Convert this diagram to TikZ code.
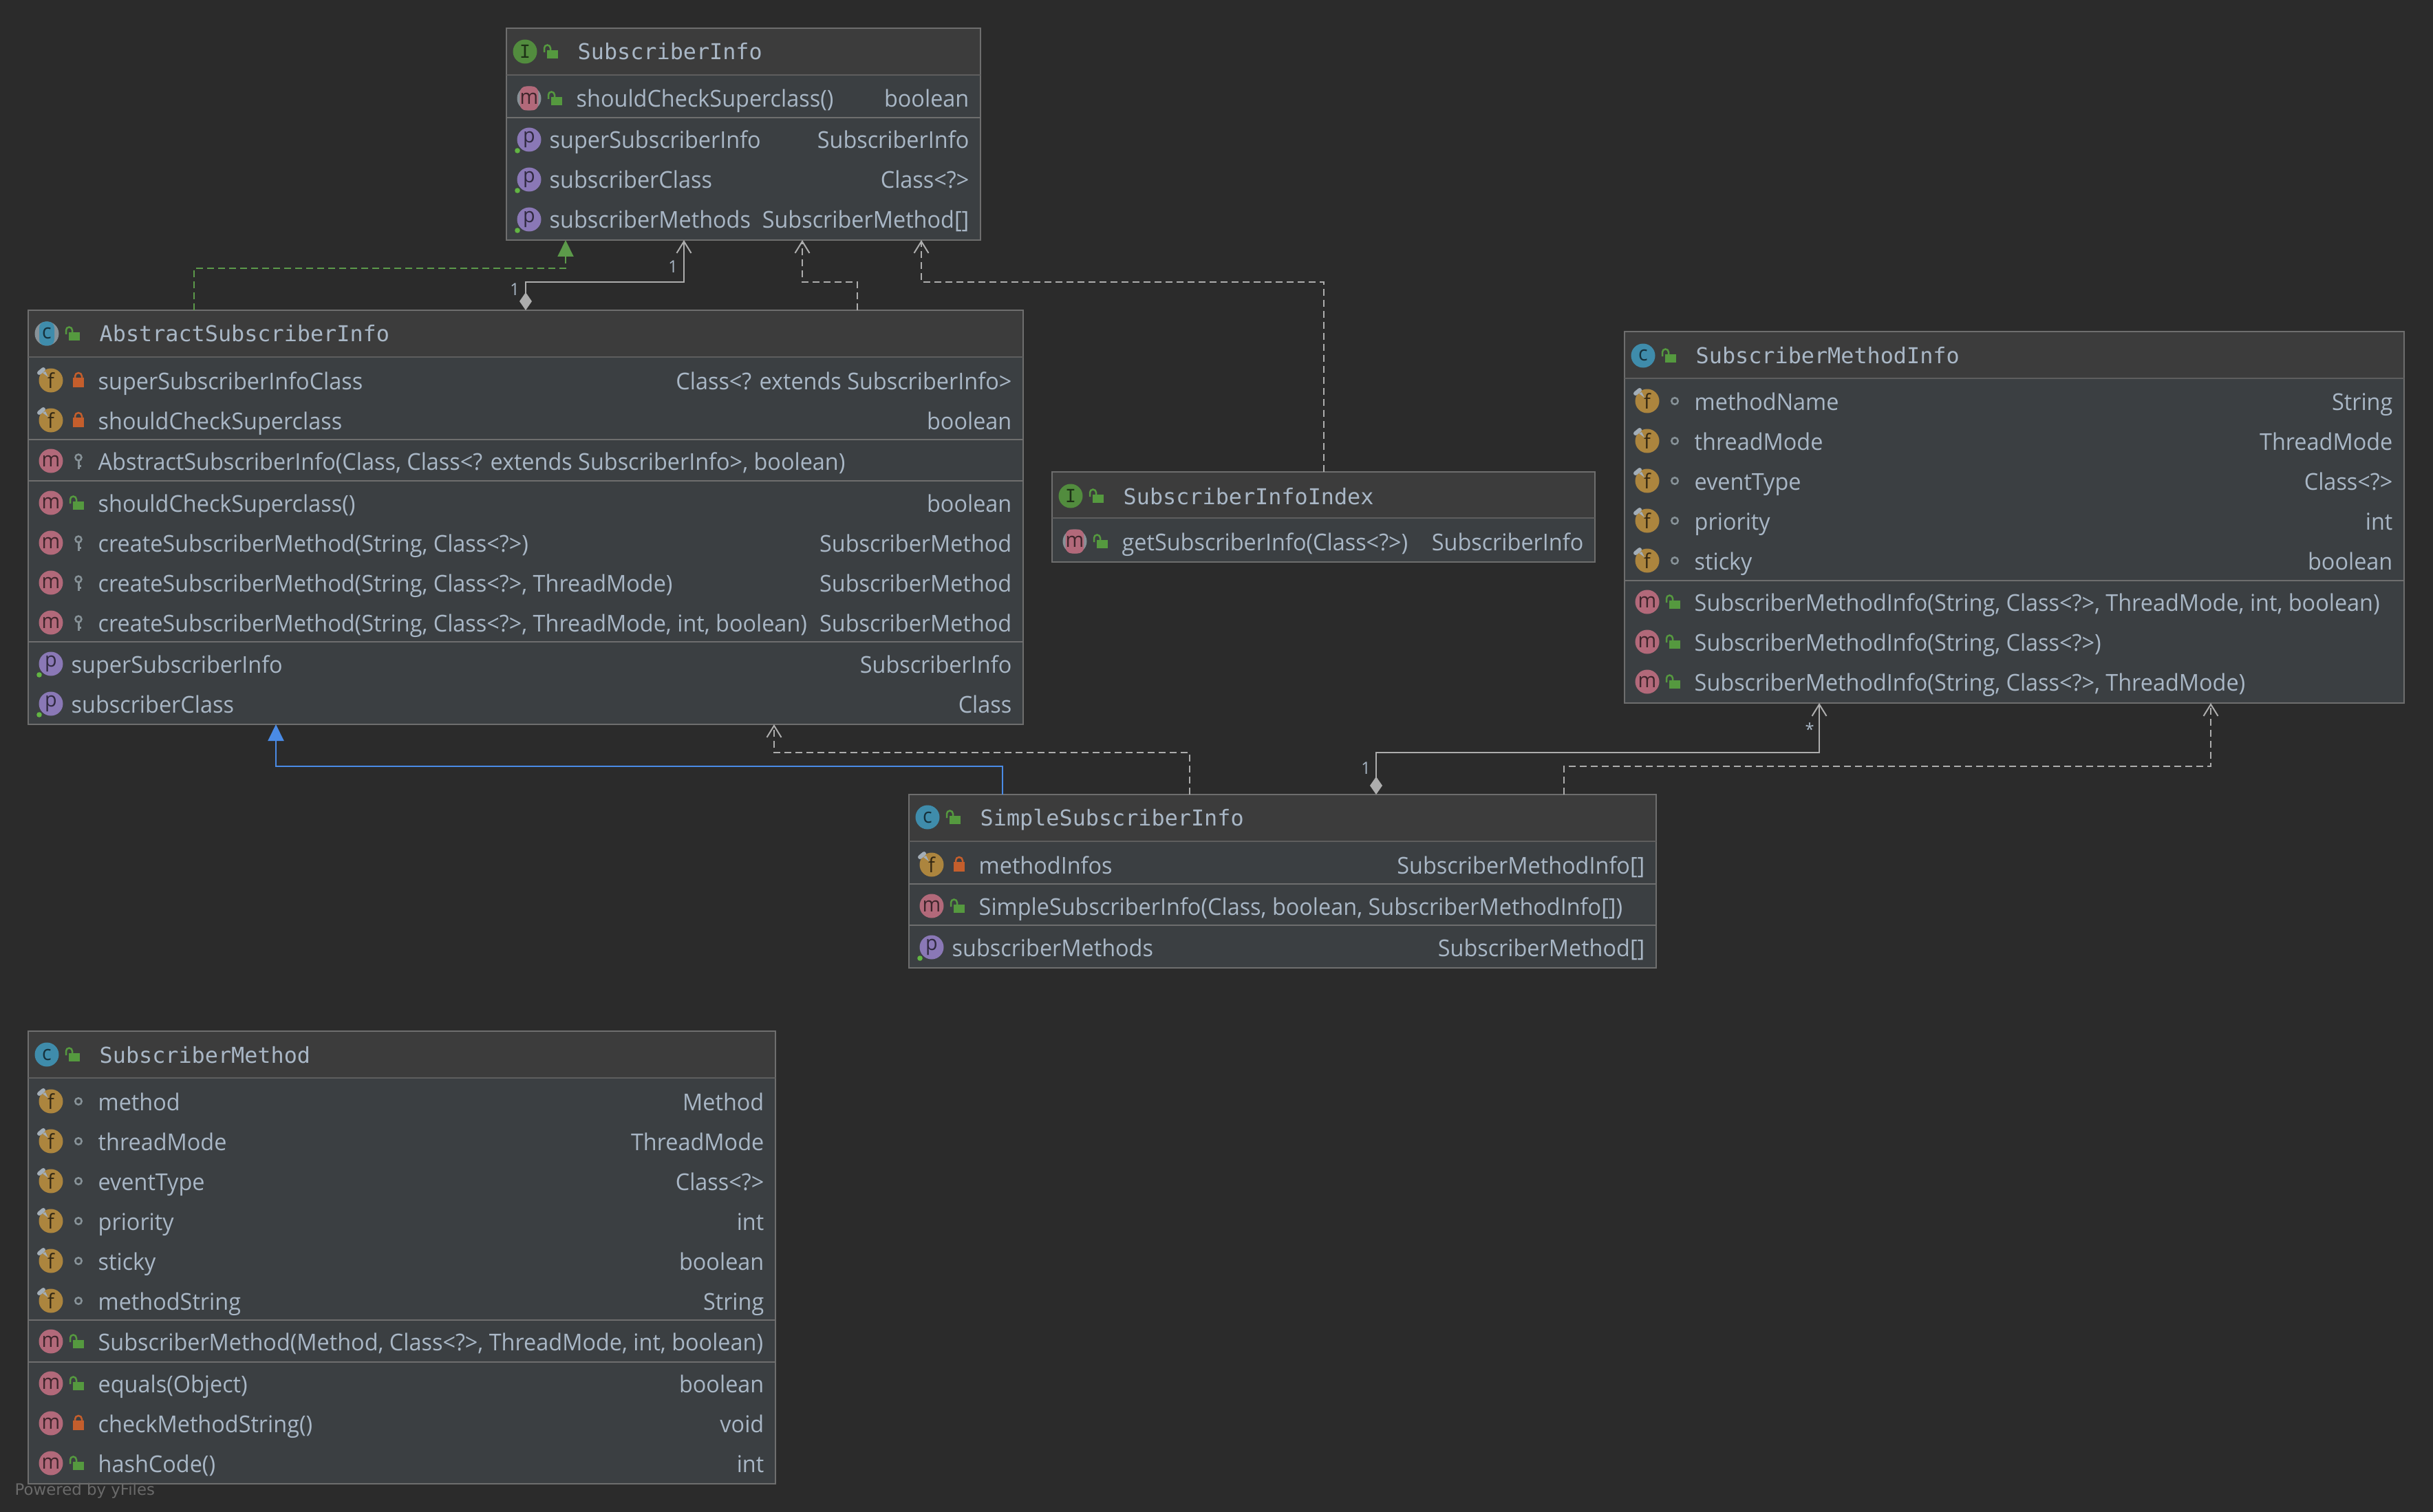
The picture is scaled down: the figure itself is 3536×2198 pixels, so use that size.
\documentclass[tikz,border=0pt]{standalone}
\usepackage{xcolor}
\usepackage{fontspec}
\setmainfont[FakeStretch=0.96]{Open Sans}
\newfontfamily\titlefont{DejaVu Sans Mono}
\newfontfamily\footfont{DejaVu Sans}
\usetikzlibrary{arrows.meta}

\definecolor{canvasbg}{HTML}{2B2B2B}
\definecolor{headbg}{HTML}{3C3C3C}
\definecolor{bodybg}{HTML}{3B3F42}
\definecolor{edgegray}{HTML}{6E6E6E}
\definecolor{wiregray}{HTML}{ADADAD}
\definecolor{labelblue}{HTML}{A9B7C6}
\definecolor{implgreen}{HTML}{5C9A4A}
\definecolor{extblue}{HTML}{4A8BE6}
\definecolor{fieldorange}{HTML}{AC853E}
\definecolor{methodpink}{HTML}{B2697A}
\definecolor{proppurple}{HTML}{8A78B6}
\definecolor{classteal}{HTML}{3F8CAB}
\definecolor{ifacegreen}{HTML}{528C3E}
\definecolor{abstractgray}{HTML}{879298}
\definecolor{lockgreen}{HTML}{55993F}
\definecolor{lockred}{HTML}{C45E2C}
\definecolor{visgray}{HTML}{879298}
\definecolor{pingray}{HTML}{A3AEB8}
\definecolor{dotgreen}{HTML}{62B543}

\tikzset{
  classbox/.style={draw=edgegray, fill=bodybg, line width=0.2mm, rectangle, inner sep=0pt, outer sep=0pt, anchor=north west},
  heading/.style={anchor=base west, inner sep=0pt, text=labelblue, font=\titlefont\fontsize{9.05}{11}\selectfont},
  member/.style={anchor=base west, inner sep=0pt, text=labelblue, font=\fontsize{9.6}{12}\selectfont},
  membertype/.style={member, anchor=base east},
  badge/.style={circle, inner sep=0pt, minimum size=3.5mm, font=\fontsize{8.5}{8}\selectfont},
  fieldbadge/.style={badge, fill=fieldorange, text=black!70!fieldorange},
  methodbadge/.style={badge, fill=methodpink, text=black!65!methodpink},
  propbadge/.style={badge, fill=proppurple, text=black!65!proppurple},
  classbadge/.style={badge, fill=classteal, text=black!65!classteal},
  ifacebadge/.style={badge, fill=ifacegreen, text=black!65!ifacegreen, font=\titlefont\fontsize{7.5}{8}\selectfont},
  greybadge/.style={badge, fill=abstractgray},
  band/.style={rectangle, rounded corners=0.9mm, inner sep=0pt, minimum width=2.2mm, minimum height=3.5mm, font=\fontsize{8.5}{8}\selectfont},
  wire/.style={draw=wiregray, line width=0.2mm},
  dashwire/.style={wire, dash pattern=on 1mm off 0.6mm},
  multiplicity/.style={inner sep=0pt, text=labelblue, font=\fontsize{7}{7}\selectfont},
  openhead/.style={-{Straight Barb[length=1.7mm,width=2.1mm]}},
  diamondtail/.style={{Diamond[length=2.6mm,width=1.8mm]}-{Straight Barb[length=1.7mm,width=2.1mm]}},
}

% box: id, left, top, right, bottom, bottom of heading
\newcommand\classbox[6]{
  \def\boxleft{#2}\def\boxright{#4}
  \node[classbox, minimum width={(#4-#2)*0.1mm}, minimum height={(#5-#3)*0.1mm}] (#1) at (#2,#3) {};
  \fill[headbg] (#2+1,#3+1) rectangle (#4-1,#6);
  \draw[edgegray!85!black, line width=0.2mm] (#2,#6) -- (#4,#6);
}
\newcommand\sepline[1]{\draw[edgegray, line width=0.2mm] (\boxleft,#1) -- (\boxright,#1);}

\newcommand\openlock[2]{
  \fill[lockgreen] (#1,#2-2) rectangle ++(16,12);
  \draw[lockgreen, line width=0.25mm] (#1-4,#2+1) -- (#1-4,#2-5) arc (180:360:4.5) -- (#1+5,#2-2);
}
\newcommand\closedlock[2]{
  \fill[lockred] (#1,#2-4) rectangle ++(16,14);
  \draw[lockred, line width=0.25mm] (#1+3,#2-4) -- (#1+3,#2-6) arc (180:360:5) -- (#1+13,#2-4);
}
\newcommand\pkgdot[2]{\draw[visgray, line width=0.25mm] (#1+8,#2) circle (4.8);}
\newcommand\keymark[2]{
  \draw[visgray, line width=0.25mm] (#1+8,#2-5) circle (4.5);
  \draw[visgray, line width=0.3mm] (#1+8,#2) -- (#1+8,#2+12) (#1+8,#2+7) -- (#1+12,#2+7);
}

% heading row: id, y, letter, badge style, name
\newcommand\headrow[5]{
  \node[#4] (#1b) at (\boxleft+27,#2) {#3};
  \openlock{\boxleft+59}{#2}
  \node[heading] (#1n) at (\boxleft+103,#2+12) {#5};
}
% abstract heading: grey circle with coloured band
\newcommand\abshead[5]{
  \node[greybadge] (#1g) at (\boxleft+27,#2) {};
  \node[band, fill=#4, text=black!65!#4] (#1b) at (\boxleft+27,#2) {#3};
  \openlock{\boxleft+59}{#2}
  \node[heading] (#1n) at (\boxleft+103,#2+12) {#5};
}
\newcommand\rowtype[3]{\node[membertype] (#1t) at (\boxright-16,#2+13) {#3};}

% field row: id, y, visibility mark, name, type
\newcommand\fieldrow[5]{
  \node[fieldbadge] (#1b) at (\boxleft+33,#2) {f};
  \draw[pingray, line width=0.6mm, line cap=round] (\boxleft+16,#2-11) -- (\boxleft+22,#2-16);
  \fill[pingray] (\boxleft+21,#2-11) -- (\boxleft+29,#2-5) -- (\boxleft+25,#2-13) -- cycle;
  #3{\boxleft+65}{#2}
  \node[member] (#1n) at (\boxleft+101,#2+13) {#4};
  \rowtype{#1}{#2}{#5}
}
\newcommand\methodrow[5]{
  \node[methodbadge] (#1b) at (\boxleft+33,#2) {m};
  #3{\boxleft+65}{#2}
  \node[member] (#1n) at (\boxleft+101,#2+13) {#4};
  \rowtype{#1}{#2}{#5}
}
\newcommand\ctorrow[4]{
  \node[methodbadge] (#1b) at (\boxleft+33,#2) {m};
  #3{\boxleft+65}{#2}
  \node[member] (#1n) at (\boxleft+101,#2+13) {#4};
}
% abstract method row
\newcommand\absrow[5]{
  \node[greybadge] (#1g) at (\boxleft+33,#2) {};
  \node[band, fill=methodpink, text=black!65!methodpink] (#1b) at (\boxleft+33,#2) {m};
  #3{\boxleft+65}{#2}
  \node[member] (#1n) at (\boxleft+101,#2+13) {#4};
  \rowtype{#1}{#2}{#5}
}
\newcommand\proprow[4]{
  \node[propbadge] (#1b) at (\boxleft+33,#2) {p};
  \fill[dotgreen] (\boxleft+16,#2+16) circle (3.8);
  \node[member] (#1n) at (\boxleft+62,#2+13) {#3};
  \rowtype{#1}{#2}{#4}
}

\begin{document}
\begin{tikzpicture}[x=0.1mm, y=-0.1mm]
  \useasboundingbox (0,0) rectangle (3536,2198);
  \fill[canvasbg] (0,0) rectangle (3536,2198);

  % SubscriberInfo
  \classbox{info}{736}{41}{1425}{349}{109}
  \headrow{infoh}{75}{I}{ifacebadge}{SubscriberInfo}
  \sepline{171}
  \absrow{infoa}{143}{\openlock}{shouldCheckSuperclass()}{boolean}
  \proprow{infob}{203}{superSubscriberInfo}{SubscriberInfo}
  \proprow{infoc}{261}{subscriberClass}{Class<?>}
  \proprow{infod}{319}{subscriberMethods}{SubscriberMethod[]}

  % AbstractSubscriberInfo
  \classbox{absinfo}{41}{451}{1487}{1053}{519}
  \abshead{absh}{485}{c}{classteal}{AbstractSubscriberInfo}
  \fieldrow{absa}{553}{\closedlock}{superSubscriberInfoClass}{Class<? extends SubscriberInfo>}
  \fieldrow{absb}{611}{\closedlock}{shouldCheckSuperclass}{boolean}
  \sepline{639}
  \ctorrow{absc}{670}{\keymark}{AbstractSubscriberInfo(Class, Class<? extends SubscriberInfo>, boolean)}
  \sepline{699}
  \methodrow{absd}{731}{\openlock}{shouldCheckSuperclass()}{boolean}
  \methodrow{abse}{789}{\keymark}{createSubscriberMethod(String, Class<?>)}{SubscriberMethod}
  \methodrow{absf}{847}{\keymark}{createSubscriberMethod(String, Class<?>, ThreadMode)}{SubscriberMethod}
  \methodrow{absg}{905}{\keymark}{createSubscriberMethod(String, Class<?>, ThreadMode, int, boolean)}{SubscriberMethod}
  \sepline{933}
  \proprow{absi}{965}{superSubscriberInfo}{SubscriberInfo}
  \proprow{absj}{1023}{subscriberClass}{Class}

  % SubscriberInfoIndex
  \classbox{index}{1529}{686}{2318}{817}{753}
  \headrow{indexh}{721}{I}{ifacebadge}{SubscriberInfoIndex}
  \absrow{indexa}{787}{\openlock}{getSubscriberInfo(Class<?>)}{SubscriberInfo}

  % SubscriberMethodInfo
  \classbox{methodinfo}{2361}{482}{3494}{1022}{550}
  \headrow{minfoh}{517}{c}{classbadge}{SubscriberMethodInfo}
  \fieldrow{minfoa}{583}{\pkgdot}{methodName}{String}
  \fieldrow{minfob}{641}{\pkgdot}{threadMode}{ThreadMode}
  \fieldrow{minfoc}{699}{\pkgdot}{eventType}{Class<?>}
  \fieldrow{minfod}{757}{\pkgdot}{priority}{int}
  \fieldrow{minfoe}{815}{\pkgdot}{sticky}{boolean}
  \sepline{844}
  \ctorrow{minfof}{875}{\openlock}{SubscriberMethodInfo(String, Class<?>, ThreadMode, int, boolean)}
  \ctorrow{minfog}{933}{\openlock}{SubscriberMethodInfo(String, Class<?>)}
  \ctorrow{minfoi}{991}{\openlock}{SubscriberMethodInfo(String, Class<?>, ThreadMode)}

  % SimpleSubscriberInfo
  \classbox{simple}{1321}{1155}{2407}{1407}{1223}
  \headrow{simpleh}{1188}{c}{classbadge}{SimpleSubscriberInfo}
  \fieldrow{simplea}{1257}{\closedlock}{methodInfos}{SubscriberMethodInfo[]}
  \sepline{1285}
  \ctorrow{simpleb}{1317}{\openlock}{SimpleSubscriberInfo(Class, boolean, SubscriberMethodInfo[])}
  \sepline{1345}
  \proprow{simplec}{1377}{subscriberMethods}{SubscriberMethod[]}

  % SubscriberMethod
  \classbox{method}{41}{1499}{1127}{2157}{1567}
  \headrow{methodh}{1533}{c}{classbadge}{SubscriberMethod}
  \fieldrow{methoda}{1601}{\pkgdot}{method}{Method}
  \fieldrow{methodb}{1659}{\pkgdot}{threadMode}{ThreadMode}
  \fieldrow{methodc}{1717}{\pkgdot}{eventType}{Class<?>}
  \fieldrow{methodd}{1775}{\pkgdot}{priority}{int}
  \fieldrow{methode}{1833}{\pkgdot}{sticky}{boolean}
  \fieldrow{methodf}{1891}{\pkgdot}{methodString}{String}
  \sepline{1919}
  \ctorrow{methodg}{1950}{\openlock}{SubscriberMethod(Method, Class<?>, ThreadMode, int, boolean)}
  \sepline{1980}
  \methodrow{methodi}{2011}{\openlock}{equals(Object)}{boolean}
  \methodrow{methodj}{2069}{\closedlock}{checkMethodString()}{void}
  \methodrow{methodk}{2127}{\openlock}{hashCode()}{int}

  % connectors
  \draw[dashwire, draw=implgreen, -{Triangle[length=2.4mm,width=2.3mm]}] (282,0 |- absinfo.north) |- (822,390) -- (822,0 |- info.south);
  \draw[wire, diamondtail] (764,0 |- absinfo.north) |- (994,410) -- (994,0 |- info.south);
  \draw[dashwire, openhead] (1246,0 |- absinfo.north) |- (1166,410) -- (1166,0 |- info.south);
  \draw[dashwire, openhead] (1924,0 |- index.north) |- (1339,410) -- (1339,0 |- info.south);
  \draw[wire, draw=extblue, -{Triangle[length=2.4mm,width=2.3mm]}] (1457,0 |- simple.north) |- (401,1114) -- (401,0 |- absinfo.south);
  \draw[dashwire, openhead] (1729,0 |- simple.north) |- (1125,1094) -- (1125,0 |- absinfo.south);
  \draw[wire, diamondtail] (2000,0 |- simple.north) |- (2644,1094) -- (2644,0 |- methodinfo.south);
  \draw[dashwire, openhead] (2273,0 |- simple.north) |- (3213,1114) -- (3213,0 |- methodinfo.south);

  \node[multiplicity] (ownera) at (748,421) {1};
  \node[multiplicity] (targeta) at (978,388) {1};
  \node[multiplicity] (ownerb) at (1985,1117) {1};
  \node[multiplicity] (targetb) at (2630,1060) {*};

  \node[anchor=base west, inner sep=0pt, text=gray!75!canvasbg, font=\footfont\fontsize{6.5}{8}\selectfont] (powered) at (21,2173) {Powered by yFiles};
\end{tikzpicture}
\end{document}
